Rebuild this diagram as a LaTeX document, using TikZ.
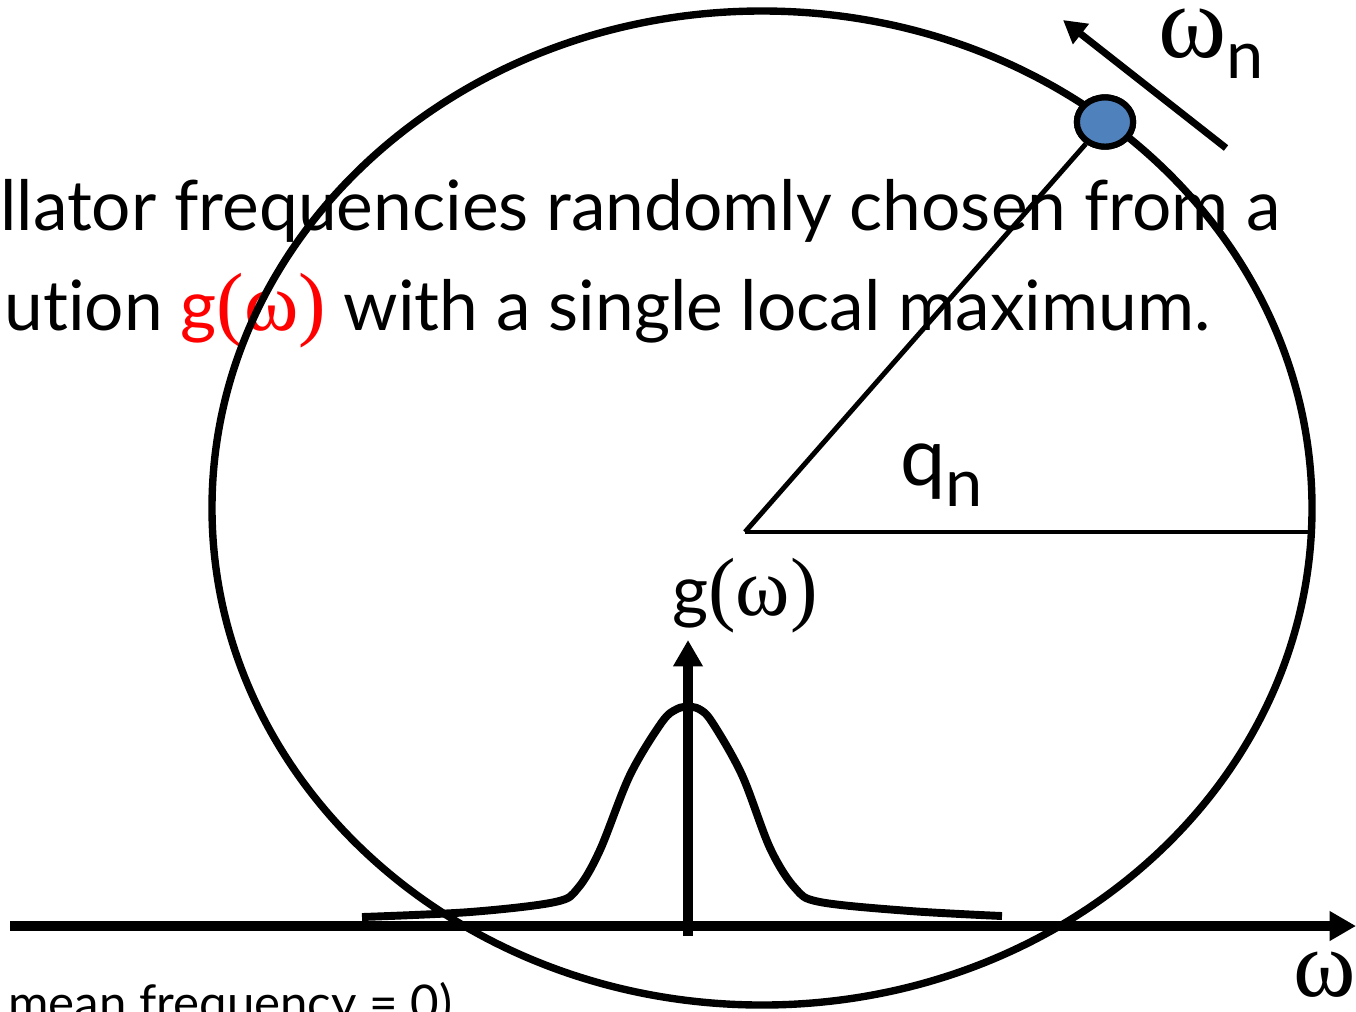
\documentclass[tikz,border=0pt]{standalone}
\usepackage{fontspec}
\setmainfont{Lato}[Ligatures=NoCommon]
\newfontfamily\greekfont{Liberation Serif}
\usepackage{tikz}
\usetikzlibrary{arrows.meta,positioning,calc,shapes.geometric}
\definecolor{OscBlue}{HTML}{4F81BD}
\definecolor{DistRed}{HTML}{FF0000}
\newcommand{\gw}{g{\greekfont\fontsize{47}{54}\selectfont(ω)}}

\begin{document}
\begin{tikzpicture}[x=0.2mm,y=-0.2mm,
  axis/.style={line width=5.5pt,-{Triangle[length=15pt,width=16pt]}},
  velo/.style={line width=4pt,-{Triangle[length=13pt,width=14pt]}},
  rim/.style={line width=4.2pt},
  spoke/.style={line width=2.8pt},
  curve/.style={line width=4.5pt,line join=round},
  osc/.style={ellipse,draw,fill=OscBlue,line width=3.5pt,minimum width=32pt,minimum height=28pt,inner sep=0pt},
  bigtext/.style={font=\fontsize{39.5}{46}\selectfont,inner sep=0pt},
  smalltext/.style={font=\fontsize{28}{33}\selectfont,inner sep=0pt}
]
\useasboundingbox (0,0) rectangle (1356,1011);
\clip (0,0) rectangle (1356,1011);
% sentence behind the drawing
\node[bigtext,anchor=base west] (line1) at (0,230) {llator frequencies randomly chosen from a};
\node[bigtext,anchor=base west] (line2) at (4,330) {ution \textcolor{DistRed}{\gw} with a single local maximum.};
\node[smalltext,anchor=base west] (mean) at (8,1020) {mean frequency = 0)};
% phase circle
\draw[rim] (762,508) ellipse [x radius=550, y radius=497];
\coordinate (O) at (745,532);
\coordinate (rimpt) at (1308,532);
\node[osc] (osc) at (1105,122) {};
\draw[spoke] (O) -- (osc);
\draw[spoke] (O) -- (rimpt);
\node[osc] at (osc) {};
\node[anchor=base west,inner sep=0pt] (qn) at (900,485) {\fontsize{46}{50}\selectfont q\raisebox{-12pt}{\fontsize{38}{46}\selectfont n}};
% oscillator velocity
\coordinate (vtail) at (1226,148);
\coordinate (vtip) at (1063,20);
\draw[velo] (vtail) -- (vtip);
\node[anchor=base west,inner sep=0pt] (omn) at (1158,57) {{\greekfont\fontsize{59}{64}\selectfont ω}\raisebox{-12pt}{\fontsize{38}{46}\selectfont n}};
% distribution
\coordinate (xstart) at (10,926);
\coordinate (xend) at (1356,926);
\coordinate (ybase) at (688,936);
\coordinate (ytip) at (688,640);
\draw[axis] (xstart) -- (xend);
\draw[axis] (ybase) -- (ytip);
\draw[curve] plot[smooth,tension=0.55] coordinates {(362,917) (470,912) (555,902) (578,888) (600,850) (630,775) (662,722) (677,709) (688,707) (699,709) (712,722) (742,775) (770,848) (795,888) (820,902) (910,911) (1002,916)};
\node[bigtext,anchor=base] (gw) at (745,615) {\gw};
\node[anchor=base east,inner sep=0pt] (wlab) at (1356,996) {\greekfont\fontsize{54}{60}\selectfont ω};
\end{tikzpicture}
\end{document}
